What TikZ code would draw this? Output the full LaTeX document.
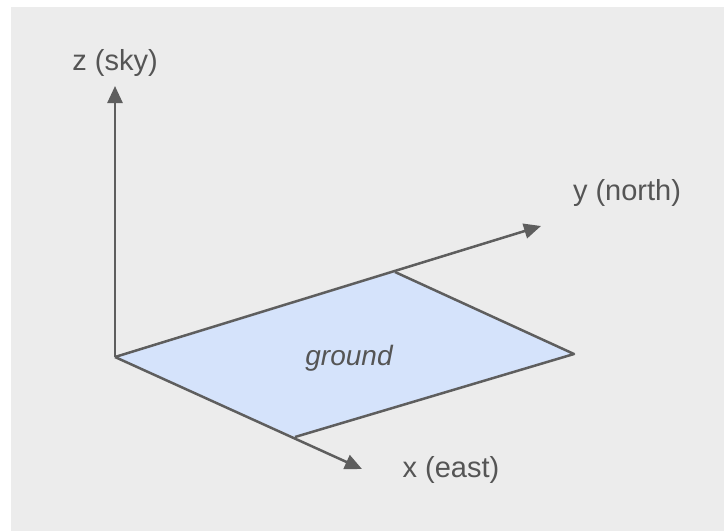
\documentclass[tikz,border=0pt]{standalone}
\usepackage{fontspec}
\setmainfont{Liberation Sans}
\usepackage{tikz}
\usetikzlibrary{arrows.meta}
\definecolor{panelgray}{HTML}{ECECEC}
\definecolor{axisgray}{HTML}{5E5E5E}
\definecolor{groundblue}{HTML}{D5E3FB}
\tikzset{
  axisline/.style={
    draw=axisgray,
    line width=2.5pt,
    -{Triangle[length=17pt,width=15pt]}
  },
  edgeline/.style={draw=axisgray, line width=2.5pt, line join=round},
  axislabel/.style={
    text=axisgray!90!black,
    font=\fontsize{29}{34}\selectfont,
    inner sep=0pt
  }
}
\begin{document}
\begin{tikzpicture}[x=1pt,y=-1pt]
  % page and panel
  \useasboundingbox (0,0) rectangle (724,531);
  \fill[white] (0,0) rectangle (724,531);
  \fill[panelgray] (11,7) rectangle (724,531);

  % corners of the ground patch
  \coordinate (origin) at (115,357);
  \coordinate (gx) at (295,437);
  \coordinate (gy) at (395,272);
  \coordinate (gxy) at (574,354);

  % axis tips
  \coordinate (ztip) at (115,86);
  \coordinate (xtip) at (362,469);
  \coordinate (ytip) at (541,226);

  \fill[groundblue] (origin) -- (gx) -- (gxy) -- (gy) -- cycle;
  \draw[edgeline] (gx) -- (gxy) -- (gy);

  \draw[axisline] (origin) -- (ztip);
  \draw[axisline] (origin) -- (xtip);
  \draw[axisline] (origin) -- (ytip);

  \node[axislabel] (zlabel) at (115,63) {z (sky)};
  \node[axislabel] (ylabel) at (627,193) {y (north)};
  \node[axislabel] (xlabel) at (451,470) {x (east)};
  \node[axislabel,font=\fontsize{28}{33}\selectfont\itshape] (groundlabel) at (349,358) {ground};
\end{tikzpicture}
\end{document}
